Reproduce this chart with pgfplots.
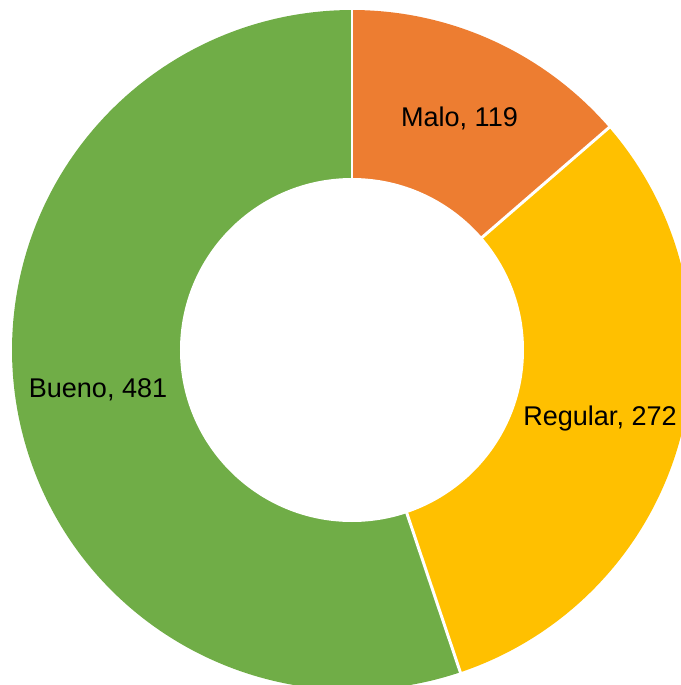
\documentclass[border=0pt]{standalone}
\usepackage{pgfplots}
\pgfplotsset{compat=1.18}
\usepackage{fontspec}
\setmainfont{Liberation Sans}
\definecolor{cMalo}{HTML}{ED7D31}
\definecolor{cReg}{HTML}{FFC000}
\definecolor{cBue}{HTML}{70AD47}
\begin{document}
\begin{tikzpicture}
% data
\def\vMalo{119}
\def\vReg{272}
\def\vBue{481}
\pgfmathsetmacro{\tot}{\vMalo+\vReg+\vBue}
\pgfmathsetmacro{\aA}{90}
\pgfmathsetmacro{\aB}{90-360*(\vMalo/\tot)}
\pgfmathsetmacro{\aC}{\aB-360*(\vReg/\tot)}
\pgfmathsetmacro{\aD}{\aC-360*(\vBue/\tot)}
\begin{axis}[
  scale only axis, width=6.81cm, height=6.85cm,
  xmin=0, xmax=681, ymin=0, ymax=685,
  hide axis, clip=true,
]
\fill[cMalo] (axis cs:352,335) -- ++(\aA:3.4cm) arc[start angle=\aA, end angle=\aB, radius=3.4cm] -- cycle;
\fill[cReg] (axis cs:352,335) -- ++(\aB:3.4cm) arc[start angle=\aB, end angle=\aC, radius=3.4cm] -- cycle;
\fill[cBue] (axis cs:352,335) -- ++(\aC:3.4cm) arc[start angle=\aC, end angle=\aD, radius=3.4cm] -- cycle;
\draw[white, line width=0.85pt] (axis cs:352,335) -- ++(\aA:3.45cm);
\draw[white, line width=0.85pt] (axis cs:352,335) -- ++(\aB:3.45cm);
\draw[white, line width=0.85pt] (axis cs:352,335) -- ++(\aC:3.45cm);
\fill[white] (axis cs:352,335) circle[radius=1.72cm];
\node[font=\fontsize{7.7}{9}\selectfont] at (axis cs:459.5,567) {Malo, \vMalo};
\node[font=\fontsize{7.7}{9}\selectfont] at (axis cs:600,267) {Regular, \vReg};
\node[font=\fontsize{7.7}{9}\selectfont] at (axis cs:98,295) {Bueno, \vBue};
\end{axis}
\pgfresetboundingbox
\useasboundingbox (current axis.south west) rectangle (current axis.north east);
\end{tikzpicture}
\end{document}
